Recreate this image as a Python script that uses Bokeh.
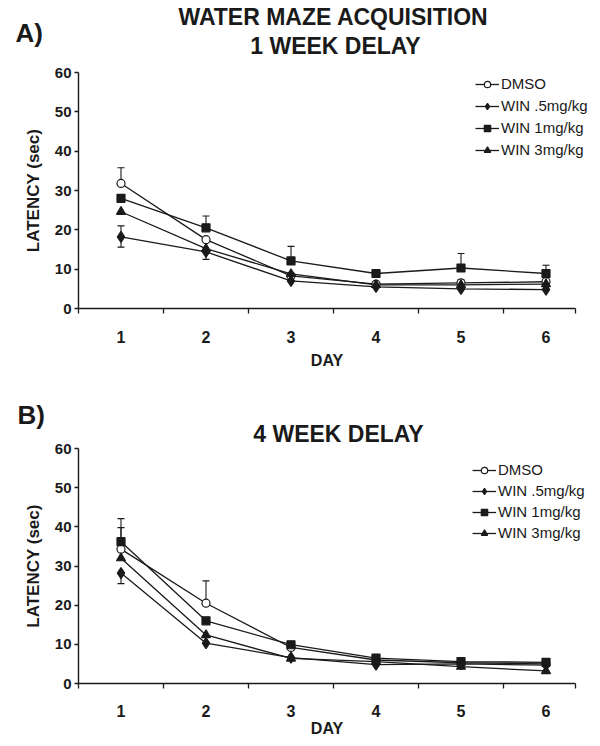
from bokeh.plotting import figure
from bokeh.models import Range1d, FixedTicker, Legend, LegendItem, Label
from bokeh.layouts import column
from bokeh.embed import file_html
from bokeh.resources import INLINE

# ---------------- data ----------------
days = [1, 2, 3, 4, 5, 6]
day_labels = ["1", "2", "3", "4", "5", "6"]
y_ticks = [0, 10, 20, 30, 40, 50, 60]
series_names = ["DMSO", "WIN .5mg/kg", "WIN 1mg/kg", "WIN 3mg/kg"]

# Panel A: 1 week delay (latency, sec)
a_dmso = [31.8, 17.5, 8.3, 6.2, 6.5, 6.8]
a_win05 = [18.2, 14.4, 7.0, 5.5, 5.0, 4.8]
a_win1 = [28.0, 20.5, 12.1, 8.9, 10.3, 8.9]
a_win3 = [24.6, 15.2, 8.8, 6.0, 6.0, 6.2]
# visible error bars (up / down)
a_dmso_up = [4.0, 0, 0, 0, 0.8, 0.6]
a_dmso_dn = [0, 0, 0, 0, 0, 0]
a_win05_up = [2.8, 0, 0, 0, 0, 0]
a_win05_dn = [2.6, 1.9, 0, 0, 0, 0]
a_win1_up = [0, 3.0, 3.7, 0.7, 3.7, 2.1]
a_win1_dn = [0, 0, 0, 0, 0, 0]
a_win3_up = [0, 0, 0, 0, 0, 0]
a_win3_dn = [0, 0, 0, 0, 0, 0]

# Panel B: 4 week delay (latency, sec)
b_dmso = [34.3, 20.5, 9.2, 6.0, 5.3, 5.0]
b_win05 = [28.2, 10.3, 6.6, 4.8, 5.0, 4.7]
b_win1 = [36.2, 16.0, 9.9, 6.5, 5.6, 5.4]
b_win3 = [32.0, 12.4, 6.4, 5.6, 4.3, 3.2]
b_dmso_up = [5.5, 5.7, 0, 0, 0, 0]
b_dmso_dn = [0, 0, 0, 0, 0, 0]
b_win05_up = [0, 0, 0, 0, 0, 0]
b_win05_dn = [2.7, 0, 0, 0, 0, 0]
b_win1_up = [5.9, 0, 0, 0, 0, 0]
b_win1_dn = [0, 0, 0, 0, 0, 0]
b_win3_up = [0, 0, 0, 0, 0, 0]
b_win3_dn = [0, 0, 0, 0, 0, 0]

title_a = ["WATER MAZE ACQUISITION", "1 WEEK DELAY"]
title_b = ["4 WEEK DELAY"]

# ---------------- styles / layout (pixels) ----------------
FONT = "Liberation Sans"
INK = "#1a1a1a"
W = 592
PX_PER_DAY = 85.0      # horizontal scale
X_AXIS_PX = 78         # pixel column of the y axis (x = 0.5)
X_START, AXIS_END = 0.5, 6.35
markers = [
    dict(marker="circle", size=8, fill_color="white"),
    dict(marker="diamond", size=11, fill_color=INK),
    dict(marker="square", size=8, fill_color=INK),
    dict(marker="triangle", size=9, fill_color=INK),
]


def make_panel(values, ups, dns, H, y60_px, y0_px, titles, letter, legend_xy, spacing,
               lab_standoff, ax_standoff):
    ppy = (y0_px - y60_px) / 60.0
    xr = Range1d(X_START - X_AXIS_PX / PX_PER_DAY, X_START + (W - X_AXIS_PX) / PX_PER_DAY)
    yr = Range1d(0 - (H - y0_px) / ppy, 60 + y60_px / ppy)
    p = figure(width=W, height=H, output_backend="svg", toolbar_location=None,
               x_range=xr, y_range=yr, min_border=0,
               background_fill_color="white", border_fill_color="white")
    p.outline_line_color = None
    p.grid.visible = False

    # error bars
    for v, up, dn in zip(values, ups, dns):
        for d, val, e_up, e_dn in zip(days, v, up, dn):
            if e_up > 0:
                p.segment(x0=[d], y0=[val], x1=[d], y1=[val + e_up], line_color=INK, line_width=1.1)
                p.scatter(x=[d], y=[val + e_up], marker="dash", size=7, line_color=INK, line_width=1.1)
            if e_dn > 0:
                p.segment(x0=[d], y0=[val], x1=[d], y1=[val - e_dn], line_color=INK, line_width=1.1)
                p.scatter(x=[d], y=[val - e_dn], marker="dash", size=7, line_color=INK, line_width=1.1)

    items = []
    line_rs = [p.line(days, v, line_color=INK, line_width=1.3) for v in values]
    for name, v, m, lr in zip(series_names, values, markers, line_rs):
        sr = p.scatter(days, v, marker=m["marker"], size=m["size"], fill_color=m["fill_color"],
                       line_color=INK, line_width=1.2)
        items.append(LegendItem(label=name, renderers=[lr, sr]))

    legend = Legend(items=items, location=legend_xy, border_line_color=None,
                    background_fill_alpha=0, padding=0, margin=0, spacing=spacing,
                    glyph_width=24, glyph_height=16, label_height=16, label_standoff=2,
                    label_text_font=FONT, label_text_font_size="15px", label_text_color=INK)
    p.add_layout(legend, "center")

    # x axis (drawn at y = 0)
    xa = p.xaxis[0]
    xa.fixed_location = 0
    xa.bounds = (X_START, AXIS_END)
    xa.ticker = FixedTicker(ticks=days, minor_ticks=[0.5, 1.5, 2.5, 3.5, 4.5, 5.5, AXIS_END])
    xa.major_label_overrides = {d: lab for d, lab in zip(days, day_labels)}
    xa.major_tick_line_color = None
    xa.major_tick_out = 0
    xa.major_tick_in = 0
    xa.minor_tick_out = 5
    xa.minor_tick_in = 0
    xa.minor_tick_line_color = INK
    xa.minor_tick_line_width = 1.3
    xa.axis_line_color = INK
    xa.axis_line_width = 1.4
    xa.major_label_standoff = lab_standoff
    xa.major_label_text_font = FONT
    xa.major_label_text_font_style = "bold"
    xa.major_label_text_font_size = "16px"
    xa.major_label_text_color = INK
    xa.axis_label = "DAY"
    xa.axis_label_text_font = FONT
    xa.axis_label_text_font_style = "bold"
    xa.axis_label_text_font_size = "16px"
    xa.axis_label_text_color = INK
    xa.axis_label_standoff = ax_standoff

    # y axis (drawn at x = 0.5)
    ya = p.yaxis[0]
    ya.fixed_location = X_START
    ya.bounds = (0, 60)
    ya.ticker = FixedTicker(ticks=y_ticks, minor_ticks=[])
    ya.major_tick_out = 4
    ya.major_tick_in = 0
    ya.major_tick_line_color = INK
    ya.major_tick_line_width = 1.3
    ya.minor_tick_line_color = None
    ya.axis_line_color = INK
    ya.axis_line_width = 1.4
    ya.major_label_standoff = 3
    ya.major_label_text_font = FONT
    ya.major_label_text_font_style = "bold"
    ya.major_label_text_font_size = "15px"
    ya.major_label_text_color = INK
    ya.axis_label = "LATENCY (sec)"
    ya.axis_label_text_font = FONT
    ya.axis_label_text_font_style = "bold"
    ya.axis_label_text_font_size = "17px"
    ya.axis_label_text_color = INK
    ya.axis_label_standoff = 9

    for text, x, y in titles:
        p.add_layout(Label(x=x, y=H - y, x_units="screen", y_units="screen", text=text,
                           text_align="center", text_baseline="middle",
                           text_font=FONT, text_font_style="bold", text_font_size="23px",
                           text_color=INK))
    lt, lx, ly = letter
    p.add_layout(Label(x=lx, y=H - ly, x_units="screen", y_units="screen", text=lt,
                       text_align="left", text_baseline="middle",
                       text_font=FONT, text_font_style="bold", text_font_size="26px",
                       text_color=INK))
    return p


pa = make_panel([a_dmso, a_win05, a_win1, a_win3],
                [a_dmso_up, a_win05_up, a_win1_up, a_win3_up],
                [a_dmso_dn, a_win05_dn, a_win1_dn, a_win3_dn],
                H=381, y60_px=72, y0_px=308,
                titles=[(title_a[0], 333, 16.5), (title_a[1], 335, 45)],
                letter=("A)", 15, 32), legend_xy=(475, 223), spacing=5,
                lab_standoff=17, ax_standoff=6)

pb = make_panel([b_dmso, b_win05, b_win1, b_win3],
                [b_dmso_up, b_win05_up, b_win1_up, b_win3_up],
                [b_dmso_dn, b_win05_dn, b_win1_dn, b_win3_dn],
                H=357, y60_px=67, y0_px=302,
                titles=[(title_b[0], 338, 52)],
                letter=("B)", 17, 33), legend_xy=(472, 197), spacing=4,
                lab_standoff=16, ax_standoff=0)

layout = column(pa, pb, spacing=0)
open("out.html", "w").write(file_html(layout, INLINE))
